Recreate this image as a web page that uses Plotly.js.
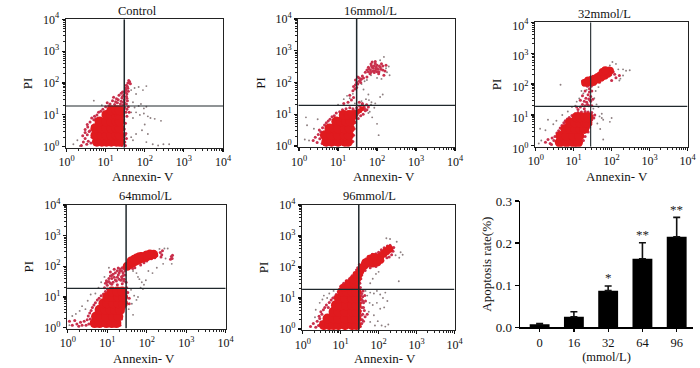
<!DOCTYPE html>
<html><head><meta charset="utf-8">
<script src="https://cdn.plot.ly/plotly-3.0.0.min.js"></script>
<style>html,body{margin:0;padding:0;background:#fff}#c{width:700px;height:368px}</style></head>
<body><div id="c"></div>
<script>
const panelTitles=['Control','16mmol/L','32mmol/L','64mmol/L','96mmol/L'];
const barCategories=['0','16','32','64','96'];
const barValues=[0.007,0.025,0.087,0.163,0.215];
const barErrors=[0.002,0.012,0.011,0.038,0.046];
const barStars=['','','*','**','**'];
const barStarHeights=[0,0,0.118,0.220,0.281];
const decadeTicks=[1,10,100,1000,10000];
const decadeLabels=['10<sup>0</sup>','10<sup>1</sup>','10<sup>2</sup>','10<sup>3</sup>','10<sup>4</sup>'];
const minorDecadeTicks=[2,3,4,5,6,7,8,9,20,30,40,50,60,70,80,90,200,300,400,500,600,700,800,900,2000,3000,4000,5000,6000,7000,8000,9000];
const gateX=[30,30,28,30,30];
const gateY=[19,19,19,19,19];

// [Annexin-V, PI] events: dense core, medium lobes, fringe, sparse grey events
const controlCore=[[6,1.44],[8,1.44],[10.5,1.44],[14,1.44],[19,1.44],[23,1.44],[5.5,2.3],[8,2.3],[10.5,2.3],[14,2.3],[19,2.3],[23,2.3],[5.5,3.8],[8,3.8],[10.5,3.8],[14,3.8],[19,3.8],[23,3.8],[7,6.2],[10.5,6.2],[14,6.2],[19,6.2],[23,6.2],[10.5,10],[14,10],[19,10],[23,10],[14,14],[19,14],[23,14]];
const controlLobe=[];
const controlFringe=[[2.4,1.1],[2.7,1.4],[3,1.8],[3.3,1.2],[3.6,1.5],[2.6,2.2],[3,2.8],[3.4,2.4],[3.8,3],[4.2,1.3],[3,3.5],[3.5,4.2],[4,3.2],[4.5,2],[3.4,5],[4,6],[4.6,4.5],[5,7],[4.4,8],[5.2,9],[6,10],[5.6,7.5],[6.6,12],[7.5,13],[8.5,15],[9,11],[10,18],[12,19],[14,16],[11,24],[13,22],[15,28],[17,21],[19,32],[16,36],[18,26],[21,30],[24,22],[26,34],[28,25],[22,41],[25,48],[27,38],[30,30],[31,55],[33,62],[35,45],[32,70],[34,85],[37,100],[39,120],[36,78],[41,110],[43,95],[38,55],[34,38],[36,28],[31,17],[33,12],[35,9],[29,7],[32,5.5],[30,3.6],[33,2.6],[34,1.8],[31,1.4],[32,1.1],[28,1.6],[26,1.1],[31,2.3],[28,20],[25,27],[20,24],[23,17],[35,15],[38,18],[40,12],[34,22],[30,25],[29,42],[27,52],[35,33],[33,50],[37,68]];
const controlSparse=[[1.5,1.2],[1.9,1.6],[2.2,1.05],[5,28],[8,20],[45,60],[55,70],[70,75],[90,60],[110,80],[60,45],[50,25],[55,17],[70,19],[80,22],[95,16],[110,18],[45,12],[50,8],[60,12],[75,10],[95,11],[120,9],[140,8],[180,7.5],[260,6.5],[100,5],[85,3.3],[60,2.5],[45,2],[50,1.6],[110,1.4],[160,1.2],[220,1.1],[300,1.2],[420,1.2],[120,2.5]];

const d16Core=[[5,1.37],[6.8,1.37],[10,1.37],[15,1.37],[18,1.37],[4.6,2.2],[6.8,2.2],[10,2.2],[15,2.2],[19,2.2],[6,3.6],[8,3.6],[10,3.6],[15,3.6],[20,3.6],[9,5.9],[12,5.9],[16,5.9],[21,5.9],[14,9.5],[19,9.5],[24,9.5]];
const d16Lobe=[[26,8],[29,10],[32,12],[36,13],[41,15]];
const d16Fringe=[[2.3,1.5],[2.6,1.9],[2.9,1.3],[3.1,2.3],[3.4,1.7],[3.6,2.8],[3.9,1.2],[3.3,3.2],[4,3.8],[4.5,4.6],[5,5.4],[5.6,6.2],[6.2,7],[7,8.4],[8,9],[9,11],[11,12],[13,14],[16,15],[20,16],[24,15],[27,13],[30,16],[36,18],[42,20],[47,17],[50,13],[44,10],[38,9],[33,7.4],[28,5.5],[26,3.5],[25,2.2],[24,1.4],[48,15],[54,20],[60,17],[14,22],[18,24],[22,28],[25,34],[20,40],[24,55],[27,62],[30,70],[32,90],[35,110],[28,120],[32,150],[38,125],[42,160],[38,100],[50,210],[60,300],[68,250],[72,340],[80,280],[85,205],[90,240],[95,300],[100,350],[105,260],[112,220],[120,300],[130,390],[75,440],[90,460],[60,220],[66,190],[55,150],[110,190],[140,250],[150,170],[55,250],[62,270],[75,300],[85,340],[95,270],[100,220],[115,330],[125,260],[80,230],[70,210],[40,130],[45,140],[35,140],[30,100],[28,85],[25,75],[70,380],[90,400],[140,330],[160,230],[170,350],[42,22],[35,24],[55,14]];
const d16Sparse=[[1.4,1.6],[1.8,1.5],[1.5,8],[1.6,4.5],[2.4,3.5],[3,7],[10,20],[14,30],[17,38],[20,32],[24,44],[27,22],[40,26],[52,30],[62,28],[72,24],[90,22],[120,35],[140,42],[60,42],[45,60],[40,90],[48,110],[55,120],[70,170],[100,140],[130,130],[170,280],[200,320],[180,210],[210,170],[150,640],[120,500],[70,20],[85,16],[60,11],[75,8],[100,5],[110,2.2],[65,12]];

const d32Core=[[4.3,1.3],[6.5,1.3],[9.8,1.3],[13,1.3],[4.5,2.1],[6.5,2.1],[9.8,2.1],[14,2.1],[6,3.5],[8,3.5],[11,3.5],[15,3.5],[19,3.5],[8,5.6],[11,5.6],[15,5.6],[20,5.6],[23,5.6],[12,8.5],[15,8.5],[20,8.5],[24,8.5]];
const d32Lobe=[[20,110],[26,115],[30,135],[36,150],[43,170],[50,190],[60,210],[70,230],[80,250],[90,270],[24,130],[33,120],[42,140],[52,160],[65,185],[78,215],[58,245],[68,280]];
const d32Fringe=[[1.8,1.3],[2.1,1.6],[2.4,1.2],[2.7,1.8],[3,1.5],[2.6,1.1],[3.2,2],[3.6,2.6],[4,3.1],[4.4,3.8],[4.9,4.6],[5.5,5.6],[6,6.5],[6.8,7.4],[7.6,8.3],[9,9.6],[11,11],[13,12],[16,12.5],[20,13],[24,12.5],[28,11],[31,9.5],[34,8],[30,7],[28,5],[26,4],[24,2.8],[20,2],[18,1.5],[30,12],[36,10],[13,15],[15,18],[17,22],[19,16],[22,26],[25,20],[27,30],[21,35],[24,45],[19,28],[28,40],[30,60],[26,70],[23,85],[29,85],[18,95],[22,150],[17,125],[28,170],[32,180],[38,190],[45,210],[52,250],[60,300],[70,320],[85,330],[100,300],[110,250],[120,210],[95,200],[75,170],[60,150],[48,115],[36,100],[32,95],[100,130],[130,160],[160,190],[20,60],[17,42],[15,30],[25,33],[23,22],[28,28],[12,18],[26,55],[30,20],[32,32],[20,20],[24,100],[28,95]];
const d32Sparse=[[1.2,1.2],[1.4,1.5],[1.3,3.6],[1.8,3.2],[2.1,7],[2.9,5],[3.5,6.5],[5,10],[7,13],[9,18],[11,20],[14,34],[18,50],[12,27],[4.5,95],[22,65],[16,60],[35,35],[40,22],[33,16],[45,18],[48,9],[55,8],[60,7],[42,5.3],[55,11],[50,3.5],[100,8],[60,1.6],[90,6],[130,450],[105,520],[90,400],[150,300],[160,130],[200,190],[240,270],[300,280],[200,300],[170,150],[38,60],[45,80]];

const d64Core=[[4.8,1.4],[6.4,1.4],[9.5,1.4],[13,1.4],[17,1.4],[5.2,2.3],[7,2.3],[9.5,2.3],[14,2.3],[19,2.3],[6.4,3.8],[9,3.8],[12,3.8],[16,3.8],[21,3.8],[8,6.2],[10,6.2],[14,6.2],[19,6.2],[25,6.2],[10,10],[14,10],[19,10],[25,10],[13,15],[18,15],[24,15]];
const d64Lobe=[[32,100],[38,115],[45,130],[55,150],[65,165],[80,185],[100,205],[125,225],[150,245],[40,150],[55,185],[75,210],[100,235],[48,170],[65,205],[120,250]];
const d64Fringe=[[1.1,1.6],[1.3,1.2],[1.5,1.7],[1.7,1.3],[1.9,1.1],[2.1,1.5],[2.3,1.2],[2.6,1.6],[2.9,1.2],[3.1,1.8],[3.3,2.4],[3.6,3],[3.9,3.6],[3.4,1.3],[3.7,1.9],[4.2,4.5],[4.6,5.5],[5,6.5],[5.6,8],[6.2,9],[7,11],[8,12.5],[9,15],[10,18],[8.5,20],[10,24],[12,28],[9.5,34],[11,40],[13,50],[12,65],[15,80],[14,30],[16,36],[18,25],[18,44],[20,60],[22,35],[24,27],[23,72],[25,50],[27,38],[19,88],[24,90],[28,70],[30,88],[30,30],[31,20],[30,14],[30,10],[29,7],[27,4.5],[25,3.2],[23,1.9],[21,1.2],[33,14],[36,9],[36,6],[35,95],[32,110],[36,140],[44,165],[52,200],[60,240],[72,260],[90,280],[110,290],[140,300],[165,260],[180,220],[160,190],[130,175],[100,150],[85,130],[70,110],[50,90],[44,85],[220,280],[250,320],[230,200],[240,240],[420,210],[440,180],[400,170],[450,230],[9,28],[11,32],[13,26],[15,44],[17,33],[19,52],[21,70],[23,46],[25,62],[26,33],[28,52],[16,62],[13,40],[10,30],[18,72],[21,82],[26,85],[14,55],[12,48],[20,38],[24,40]];
const d64Sparse=[[1.3,2.4],[1.1,1.2],[1.6,2.8],[2,3.5],[2.3,5],[2.8,4],[3.2,7.5],[3.8,12],[5,13],[6,20],[7,30],[8.5,45],[11,90],[45,70],[55,60],[60,45],[65,38],[75,30],[85,25],[70,20],[80,18],[95,35],[40,17],[48,11],[55,8],[42,6],[60,10],[35,4],[45,2.6],[110,70],[140,60],[180,90],[260,120],[300,180],[340,380],[280,380],[430,120],[210,370]];

const d96Core=[[3.6,1.35],[5,1.35],[6.5,1.35],[8.7,1.35],[13,1.35],[20,1.35],[26,1.35],[4.5,2.2],[6.5,2.2],[8.7,2.2],[13,2.2],[20,2.2],[26,2.2],[6.5,3.6],[8.7,3.6],[13,3.6],[20,3.6],[26,3.6],[7.5,5.9],[10,5.9],[14,5.9],[20,5.9],[26,5.9],[9,9.8],[13,9.8],[20,9.8],[26,9.8],[11,16],[15,16],[20,16],[26,16]];
const d96Lobe=[[12,22],[16,24],[20,24],[25,25],[16,30],[22,30],[26,34],[21,40],[28,45],[26,55],[30,60],[33,75],[36,95],[42,110],[50,130],[60,150],[75,165],[90,180],[110,215],[135,270],[160,320],[190,380],[70,130],[90,140],[110,170],[60,190],[75,210],[45,140]];
const d96Fringe=[[1.6,1.2],[1.9,1.5],[2.2,1.15],[2.4,1.8],[2.6,1.3],[2.8,2.2],[3,1.7],[2.7,2.6],[3.2,3],[3,3.6],[3.5,4.2],[3.8,5],[4.2,6],[4.7,5],[5,7.2],[5.6,8.6],[6.2,10],[7,11],[7.6,13],[8.6,16],[9.4,19],[10,24],[12,30],[14,36],[17,42],[20,52],[23,65],[26,80],[28,95],[31,120],[38,140],[46,180],[55,220],[68,260],[85,270],[100,300],[118,360],[140,420],[170,480],[200,500],[230,400],[240,320],[220,250],[190,210],[165,200],[130,160],[105,125],[85,105],[60,95],[44,78],[36,55],[34,42],[33,22],[33,16],[34,12],[33,9],[34,7],[36,5],[33,3.8],[35,2.8],[34,2],[36,1.5],[33,1.2],[38,11],[40,7],[42,4],[38,3],[32,30],[40,1.8],[250,430],[36,14],[38,8],[40,5],[43,12],[37,2],[45,8],[50,3],[39,17],[44,2.5],[36,9]];
const d96Sparse=[[2.1,2.4],[2.2,4.2],[2.8,7],[3.3,9],[3.6,12],[4.4,10],[5,14],[6.5,17],[45,17],[50,12],[60,15],[75,14],[90,17],[110,13],[130,10],[150,15],[170,8],[58,7],[70,6],[90,7],[110,4.5],[140,5],[55,3.6],[75,2.8],[95,1.8],[120,1.3],[150,1.2],[180,1.4],[80,1.3],[60,1.7],[350,200],[380,300],[430,250],[280,240],[300,650],[200,800],[160,850],[340,35],[60,30],[70,42],[85,60],[100,70]];

const panelCore=[controlCore,d16Core,d32Core,d64Core,d96Core];
const panelLobe=[controlLobe,d16Lobe,d32Lobe,d64Lobe,d96Lobe];
const panelFringe=[controlFringe,d16Fringe,d32Fringe,d64Fringe,d96Fringe];
const panelSparse=[controlSparse,d16Sparse,d32Sparse,d64Sparse,d96Sparse];
// frame pixels: left, right, top, bottom
const frames=[[65.7,223,19.3,147.7],[298.3,455,19,147],[535,687.5,22.3,146.8],[67,225.7,205,328.5],[302,454.5,205,330]];
const lobeSize=[6,5,8,9,8];
const titleCenterPx=[137.7,370.7,604,145.7,369];
const xLabelPx=[[143,176],[384,176],[617,176],[143.7,358],[385,358.5]];
const serif='"Liberation Serif",serif';
const titleFont={family:serif,size:12.5,color:'#111'};
const W=700,H=368;

const traces=[],layout={width:W,height:H,margin:{l:0,r:0,t:0,b:0},paper_bgcolor:'#fff',plot_bgcolor:'#fff',showlegend:false,shapes:[],annotations:[],font:titleFont};
function cloud(pts,i,size,color){
  traces.push({type:'scatter',mode:'markers',x:pts.map(p=>p[0]),y:pts.map(p=>p[1]),xaxis:'x'+(i+1),yaxis:'y'+(i+1),hoverinfo:'skip',marker:{size:size,color:color,line:{width:0}}});
}
frames.forEach((f,i)=>{
  const n=i+1,sfx=i===0?'':n;
  cloud(panelSparse[i],i,1.9,'#8d7f80');
  cloud(panelFringe[i],i,3,'#c9304c');
  cloud(panelCore[i],i,10,'#e01a1e');
  cloud(panelLobe[i],i,lobeSize[i],'#e01a1e');
  const common={type:'log',tickmode:'array',tickvals:decadeTicks,ticktext:decadeLabels,ticks:'outside',ticklen:3,tickwidth:1.2,tickcolor:'#111',
    showline:true,linecolor:'#222',linewidth:1.2,mirror:true,showgrid:false,zeroline:false,tickfont:{family:serif,size:12,color:'#111'},
    minor:{tickmode:'array',tickvals:minorDecadeTicks,ticks:'outside',ticklen:2,tickwidth:1,tickcolor:'#222',showgrid:false}};
  layout['xaxis'+sfx]=Object.assign({},common,{domain:[f[0]/W,f[1]/W],anchor:'y'+sfx,range:[-0.02,4]});
  layout['yaxis'+sfx]=Object.assign({},common,{domain:[1-f[3]/H,1-f[2]/H],anchor:'x'+sfx,range:[-0.03,4],
    ticklabelshift:i===2?3:0,
    title:{text:'PI',font:{family:serif,size:13,color:'#111'},standoff:7}});
  layout.shapes.push({type:'line',xref:'x'+n,yref:'y'+n,x0:gateX[i],x1:gateX[i],y0:0.93,y1:10000,line:{color:'#20282c',width:i===2?1.1:1.5},layer:'above'});
  layout.shapes.push({type:'line',xref:'x'+n,yref:'y'+n,x0:0.96,x1:10000,y0:gateY[i],y1:gateY[i],line:{color:'#20282c',width:1.2},layer:'above'});
  layout.annotations.push({text:panelTitles[i],xref:'paper',yref:'paper',x:titleCenterPx[i]/W,y:1-(f[2]-8.5)/H,xanchor:'center',yanchor:'middle',showarrow:false,font:titleFont});
  layout.annotations.push({text:'Annexin- V',xref:'paper',yref:'paper',x:xLabelPx[i][0]/W,y:1-xLabelPx[i][1]/H,xanchor:'center',yanchor:'middle',showarrow:false,font:{family:serif,size:13,color:'#111'}});
});
traces.push({type:'bar',x:barCategories,y:barValues,xaxis:'x6',yaxis:'y6',width:0.58,marker:{color:'#000',line:{width:0}},hoverinfo:'skip',
  error_y:{type:'data',symmetric:false,array:barErrors,arrayminus:barErrors.map(()=>0),color:'#111',thickness:1.6,width:3.5}});
layout.xaxis6={domain:[520/W,693/W],anchor:'y6',type:'category',categoryorder:'array',categoryarray:barCategories,range:[-0.573,4.476],
  showline:true,linecolor:'#000',linewidth:1.4,ticks:'outside',ticklen:3,tickwidth:1.3,tickcolor:'#000',showgrid:false,zeroline:false,
  tickfont:{family:serif,size:12.5,color:'#111'},title:{text:'(mmol/L)',font:{family:serif,size:12.5,color:'#111'},standoff:0}};
layout.yaxis6={domain:[1-327.3/H,1-201/H],anchor:'x6',range:[0,0.3],tickmode:'array',tickvals:[0,0.1,0.2,0.3],ticktext:['0.0','0.1','0.2','0.3'],
  showline:true,linecolor:'#000',linewidth:1.4,ticks:'outside',ticklen:4,tickwidth:1.3,tickcolor:'#000',showgrid:false,zeroline:false,
  tickfont:{family:serif,size:13,color:'#111'},title:{text:'Apoptosis rate(%)',font:{family:serif,size:13,color:'#111'},standoff:1}};
barStars.forEach((s,i)=>{ if(s) layout.annotations.push({text:s,xref:'x6',yref:'y6',x:i,y:barStarHeights[i],xanchor:'center',yanchor:'middle',showarrow:false,font:{family:serif,size:13,color:'#222'}}); });
Plotly.newPlot('c',traces,layout,{displayModeBar:false,staticPlot:true});
</script></body></html>
